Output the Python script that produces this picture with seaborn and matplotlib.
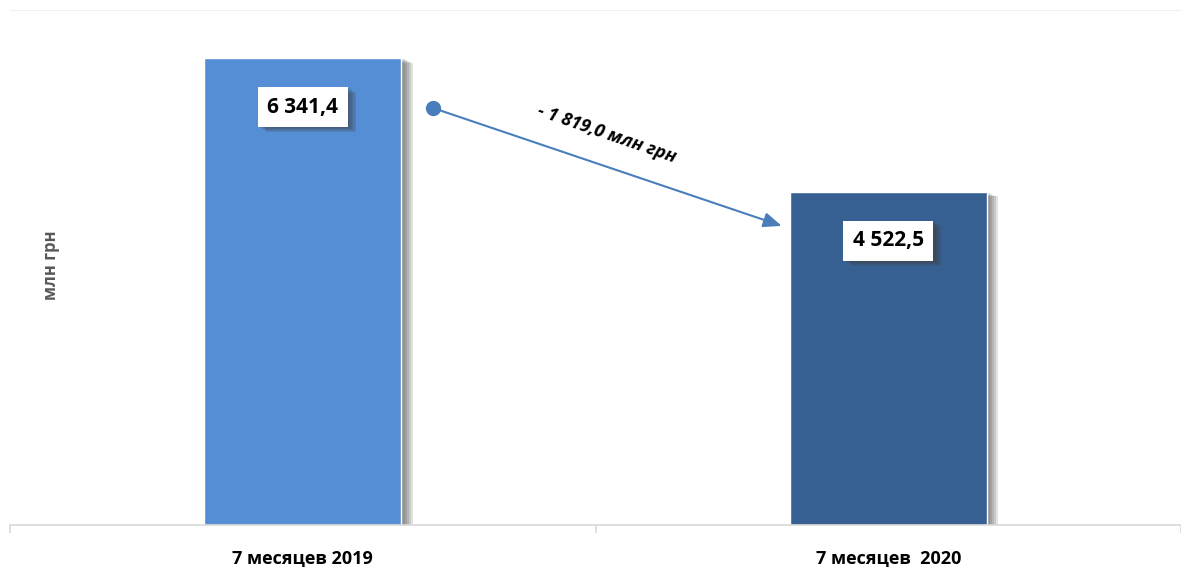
import pandas as pd
import numpy as np
import seaborn as sns
import matplotlib.pyplot as plt
import matplotlib.patheffects as pe
from matplotlib.ticker import FixedLocator

sns.set_style('white')
plt.rcParams['font.family'] = ['Open Sans', 'DejaVu Sans']

# данные
periods = ['7 месяцев 2019', '7 месяцев  2020']
values = [6341.4, 4522.5]
value_labels = ['6 341,4', '4 522,5']
diff_label = '- 1 819,0 млн грн'
bar_colors = ['#558ED5', '#376092']

df = pd.DataFrame({'period': periods, 'value': values})


def soft_shadow(dx, dy, alpha):
    # несколько слоёв тени дают размытый край
    effects = []
    for k in range(1, 6):
        effects.append(pe.SimplePatchShadow(offset=(dx * k / 5 + 1, dy * k / 5), shadow_rgbFace='0.25', alpha=alpha))
    effects.append(pe.Normal())
    return effects


fig, ax = plt.subplots(figsize=(11.81, 5.68), dpi=100)
fig.subplots_adjust(left=10/1181, right=1.0, bottom=43/568, top=558/568)

sns.barplot(x='period', y='value', hue='period', data=df, palette=bar_colors,
            width=0.337, legend=False, saturation=1, ax=ax)

for p in ax.patches:
    p.set_path_effects(soft_shadow(7, -3, 0.15))

ax.set_ylim(0, 7000)
ax.set_xlim(-0.5, 1.5)

# подписи значений
for i, (v, lab) in enumerate(zip(values, value_labels)):
    t = ax.annotate(lab, xy=(i, v), xytext=(0, -35), textcoords='offset points',
                    ha='center', va='center', fontsize=15, fontweight='bold', color='black',
                    bbox=dict(boxstyle='square,pad=0.45', fc='white', ec='none'))
    t.get_bbox_patch().set_path_effects(soft_shadow(5, -4, 0.16))

# стрелка изменения
x0, y0 = 0.222, values[0] * 0.894
x1, y1 = 0.818, values[1] * 0.899
ax.annotate('', xy=(x1, y1), xytext=(x0, y0),
            arrowprops=dict(arrowstyle='-|>,head_length=1.1,head_width=0.45', color='#4A7EBB', lw=1.5,
                            shrinkA=0, shrinkB=0))
ax.plot([x0], [y0], 'o', color='#4A7EBB', markersize=10)
ax.text((x0 + x1) / 2 + 0.0, (y0 + y1) / 2 + 440, diff_label, rotation=-19, ha='center', va='center',
        fontsize=13, fontweight='bold', fontstyle='italic', color='black', rotation_mode='anchor')

# оси
ax.set_xlabel('')
ax.set_ylabel('млн грн', fontsize=12, fontweight='bold', color='#595959')
ax.yaxis.set_label_coords(50/1171, 0.505)
ax.set_yticks([])
for s in ['left', 'right']:
    ax.spines[s].set_visible(False)
ax.spines['top'].set_color('#F0F0F0')
ax.spines['bottom'].set_color('#D9D9D9')
ax.spines['bottom'].set_linewidth(1.2)
ax.xaxis.set_minor_locator(FixedLocator([-0.5, 0.5, 1.5]))
ax.tick_params(axis='x', which='major', bottom=True, length=0, pad=18, labelsize=13, labelcolor='black')
ax.tick_params(axis='x', which='minor', bottom=True, length=6, color='#D9D9D9', width=1.2, direction='out')
for lab in ax.get_xticklabels():
    lab.set_fontweight('bold')

plt.savefig('out.png', dpi=100)
